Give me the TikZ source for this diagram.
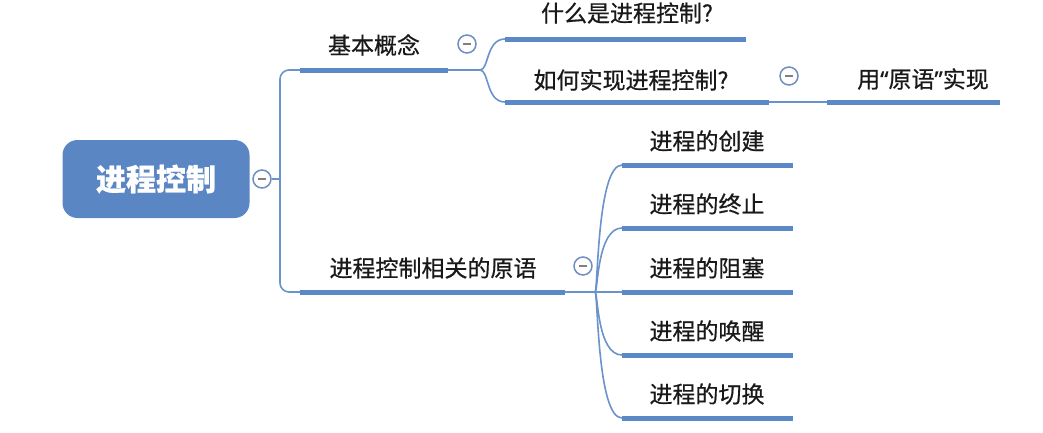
\documentclass[tikz,border=0pt]{standalone}
\usepackage{fontspec}
\newfontfamily\cjk[FakeBold=0.6]{Noto Sans CJK SC}
\newfontfamily\cjkb[FakeBold=1]{Noto Sans CJK SC Bold}
\newfontfamily\lat[FakeBold=0.6]{Noto Sans}
\usetikzlibrary{calc}
\definecolor{barblue}{HTML}{5B88C6}
\definecolor{linkblue}{HTML}{6A92CB}
\definecolor{foldblue}{HTML}{6F8FC0}
\definecolor{rootblue}{HTML}{5A86C4}
\begin{document}
\begin{tikzpicture}[x=1pt,y=-1pt,
  bar/.style={line width=5pt, draw=barblue},
  link/.style={line width=1.6pt, draw=linkblue},
  lbl/.style={font=\cjk\fontsize{23}{26}\selectfont, text=black!90, inner sep=0pt, anchor=center},
  fold/.style={circle, draw=foldblue, line width=1.5pt, fill=white, minimum size=18pt, inner sep=0pt,
    path picture={\draw[gray, line width=1.1pt] ($(path picture bounding box.center)+(-4pt,0)$) -- ++(8pt,0);}},
  rootbox/.style={rounded corners=15pt, fill=rootblue, minimum width=187pt, minimum height=78pt,
    font=\cjk\bfseries\fontsize{30}{34}\selectfont, text=white, inner sep=0pt}
]
\useasboundingbox (0,0) rectangle (1043,432);

% root
\node[rootbox] (root) at (156,179) {进程控制};
\node[fold] (f0) at (262,179) {};

% level 1 labels
\node[lbl] (basic) at (374,45) {基本概念};
\node[lbl] (prim) at (433,268) {进程控制相关的原语};

% level 2 labels
\node[lbl] (what) at (627,13) {什么是进程控制?};
\node[lbl] (how) at (631,80) {如何实现进程控制?};
\node[lbl] (use) at (923,79) {用{\lat “}原语{\lat ”}实现};
\node[fold] (f1) at (467,44) {};
\node[fold] (f2) at (789,76) {};
\node[fold] (f3) at (583,266) {};

\node[lbl] (p1) at (707,141) {进程的创建};
\node[lbl] (p2) at (707,204) {进程的终止};
\node[lbl] (p3) at (707,268) {进程的阻塞};
\node[lbl] (p4) at (707,331) {进程的唤醒};
\node[lbl] (p5) at (707,394) {进程的切换};

% coordinates for bars
\coordinate (trunk) at (280,179);
\coordinate (b1s) at (300,70);  \coordinate (b1e) at (448,70);
\coordinate (b2s) at (300,292); \coordinate (b2e) at (565,292);
\coordinate (j1) at (480,70);
\coordinate (w1s) at (505,39);  \coordinate (w1e) at (746,39);
\coordinate (h1s) at (505,102); \coordinate (h1e) at (769,102);
\coordinate (u1s) at (827,102); \coordinate (u1e) at (1000,102);
\coordinate (j2) at (595,292);
\foreach \i/\y in {1/165,2/228,3/292,4/355,5/418}{
  \coordinate (q\i s) at (622,\y);
  \coordinate (q\i e) at (793,\y);
}

% trunk
\draw[link] (f0.east) -- (trunk);
\draw[link, rounded corners=9pt] (b1s) -- (280,70) -- (280,292) -- (b2s);

% bars level 1
\draw[bar] (b1s) -- (b1e);
\draw[bar] (b2s) -- (b2e);

% upper branch
\draw[link] (b1e) -- (j1);
\draw[link] (j1) .. controls (489,70) and (486,39) .. (w1s);
\draw[link] (j1) .. controls (489,70) and (486,102) .. (h1s);
\draw[bar] (w1s) -- (w1e);
\draw[bar] (h1s) -- (h1e);
\draw[link] (h1e) -- (u1s);
\draw[bar] (u1s) -- (u1e);

% lower branch
\draw[link] (b2e) -- (q3s);
\draw[link] (j2) .. controls (598,292) and (597,165) .. (q1s);
\draw[link] (j2) .. controls (598,292) and (597,228) .. (q2s);
\draw[link] (j2) .. controls (598,292) and (597,355) .. (q4s);
\draw[link] (j2) .. controls (598,292) and (597,418) .. (q5s);
\foreach \i in {1,...,5}{ \draw[bar] (q\i s) -- (q\i e); }
\end{tikzpicture}
\end{document}
